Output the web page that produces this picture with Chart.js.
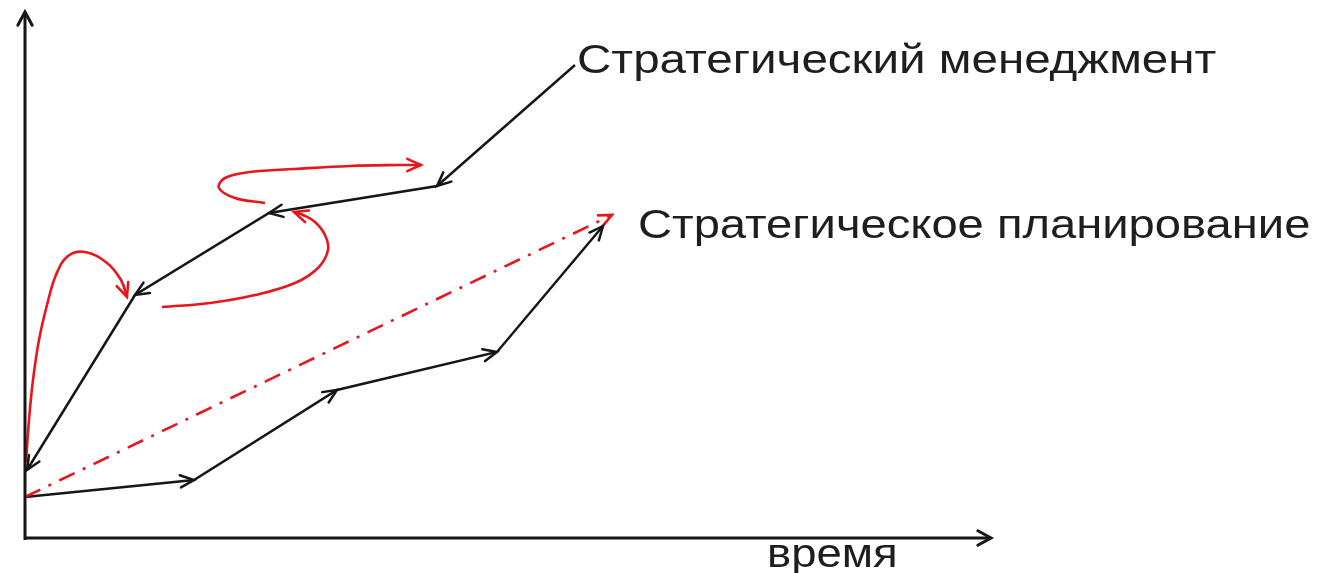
<!DOCTYPE html>
<html>
<head>
<meta charset="utf-8">
<script src="https://cdn.jsdelivr.net/npm/chart.js@4"></script>
<style>
  html, body { margin: 0; padding: 0; background: #fff; }
  #wrap { width: 1319px; height: 573px; }
</style>
</head>
<body>
<div id="wrap"><canvas id="diagram" width="1319" height="573"></canvas></div>
<script>
// axes (time to the right, level upward)
var axisX = [0, 96.6];
var axisXY = [0, 0];
var axisYX = [0, 0];
var axisY = [-0.2, 52.6];

// strategic management: the arrows run back from the label to the start
var mgmtX = [55.0, 41.2, 24.4, 11.0, 0.2];
var mgmtY = [47.3, 35.2, 32.5, 24.3, 6.8];

// strategic planning: steady arrows forward
var planX = [0.0, 16.9, 31.2, 47.2, 57.8];
var planY = [4.1, 5.8, 14.8, 18.6, 31.2];

// trend of planning (dash-dot)
var trendX = [0.0, 58.7];
var trendY = [4.1, 32.3];

// red feedback loops
var loop1X = [0.1, 0.4, 0.8, 1.4, 2.2, 3.1, 4.3, 6.0, 8.2, 9.6, 10.2];
var loop1Y = [7.6, 11.8, 15.8, 19.8, 23.3, 26.3, 28.2, 28.6, 27.5, 25.8, 24.1];
var loop2X = [13.7, 18.5, 23.0, 27.0, 29.3, 30.3, 30.0, 29.0, 27.8, 26.9];
var loop2Y = [23.1, 23.5, 24.3, 25.5, 27.0, 28.8, 30.3, 31.6, 32.3, 32.6];
var loop3X = [24.0, 21.0, 19.4, 20.0, 22.5, 27.0, 32.5, 37.5, 39.6];
var loop3Y = [33.5, 34.0, 35.0, 36.0, 36.6, 36.9, 37.2, 37.3, 37.3];

var labelMgmt = 'Стратегический менеджмент';
var labelPlan = 'Стратегическое планирование';
var labelTime = 'время';

function toPoints(xs, ys) {
    return xs.map(function (x, i) { return { x: x, y: ys[i] }; });
}

var BLACK = '#161616';
var RED = '#e8161c';

function pathSet(xs, ys, color, width, extra) {
    var ds = {
        data: toPoints(xs, ys),
        showLine: true,
        borderColor: color,
        borderWidth: width,
        pointRadius: 0,
        tension: 0,
        fill: false,
        clip: false
    };
    for (var k in extra) ds[k] = extra[k];
    return ds;
}

function drawHead(ctx, x, y, ang, len, spread, color, width) {
    ctx.save();
    ctx.strokeStyle = color;
    ctx.lineWidth = width;
    ctx.lineCap = 'round';
    ctx.lineJoin = 'miter';
    ctx.beginPath();
    ctx.moveTo(x - len * Math.cos(ang - spread), y - len * Math.sin(ang - spread));
    ctx.lineTo(x, y);
    ctx.lineTo(x - len * Math.cos(ang + spread), y - len * Math.sin(ang + spread));
    ctx.stroke();
    ctx.restore();
}

var arrowPlugin = {
    id: 'arrows',
    afterDatasetsDraw: function (chart) {
        var ctx = chart.ctx;
        chart.data.datasets.forEach(function (ds, i) {
            if (!ds.arrow) return;
            var pts = chart.getDatasetMeta(i).data;
            var from = ds.arrow === 'each' ? 1 : pts.length - 1;
            for (var j = from; j < pts.length; j++) {
                var p = pts[j], q = pts[j - 1];
                var bx = q.x, by = q.y;
                if (ds.tension && p.cp1x !== undefined) { bx = p.cp1x; by = p.cp1y; }
                var ang = Math.atan2(p.y - by, p.x - bx);
                drawHead(ctx, p.x, p.y, ang, ds.headLen || 16, ds.headSpread || 0.42, ds.borderColor, ds.borderWidth);
            }
        });
    }
};

var textPlugin = {
    id: 'labels',
    afterDraw: function (chart) {
        var ctx = chart.ctx;
        var sx = chart.scales.x, sy = chart.scales.y;
        // text, x, y, horizontal stretch
        var items = [
            [labelMgmt, 55.2, 46.5, 1.16],
            [labelPlan, 61.3, 30.0, 1.15],
            [labelTime, 74.2, -2.9, 1.11]
        ];
        ctx.save();
        ctx.fillStyle = '#1e1e1e';
        ctx.font = '41px "Liberation Sans", Arial, sans-serif';
        ctx.textBaseline = 'alphabetic';
        ctx.textAlign = 'left';
        items.forEach(function (it) {
            ctx.save();
            ctx.translate(sx.getPixelForValue(it[1]), sy.getPixelForValue(it[2]));
            ctx.scale(it[3], 1);
            ctx.fillText(it[0], 0, 0);
            ctx.restore();
        });
        ctx.restore();
    }
};

new Chart(document.getElementById('diagram'), {
    type: 'scatter',
    data: {
        datasets: [
            pathSet(axisX, axisXY, BLACK, 3, { arrow: 'end', headLen: 15, headSpread: 0.5 }),
            pathSet(axisYX, axisY, BLACK, 3, { arrow: 'end', headLen: 15, headSpread: 0.5 }),
            pathSet(trendX, trendY, RED, 2.6, { borderDash: [17, 9, 3, 9], arrow: 'end', headLen: 14 }),
            pathSet(loop1X, loop1Y, RED, 2.6, { tension: 0.4, arrow: 'end', headLen: 15 }),
            pathSet(loop2X, loop2Y, RED, 2.6, { tension: 0.4, arrow: 'end', headLen: 15 }),
            pathSet(loop3X, loop3Y, RED, 2.6, { tension: 0.4, arrow: 'end', headLen: 15 }),
            pathSet(mgmtX, mgmtY, BLACK, 2.5, { arrow: 'each', headLen: 15 }),
            pathSet(planX, planY, BLACK, 2.5, { arrow: 'each', headLen: 15 })
        ]
    },
    options: {
        responsive: false,
        animation: false,
        devicePixelRatio: 1,
        layout: { padding: 0 },
        plugins: { legend: { display: false }, tooltip: { enabled: false } },
        scales: {
            x: { type: 'linear', display: false, min: -2.5, max: 129.4 },
            y: { type: 'linear', display: false, min: -3.5, max: 53.8 }
        }
    },
    plugins: [arrowPlugin, textPlugin]
});
</script>
</body>
</html>
